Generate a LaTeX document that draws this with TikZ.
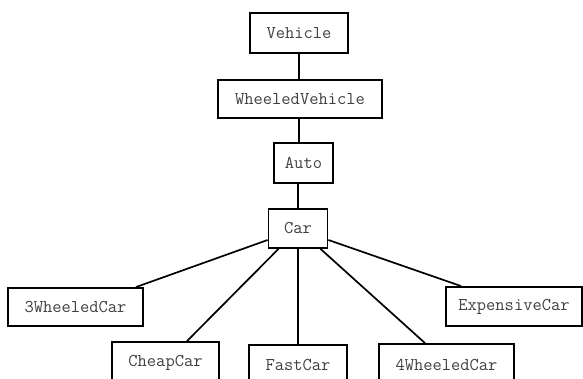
\documentclass[tikz,border=0pt]{standalone}
\begin{document}
\begin{tikzpicture}[x=1pt,y=-1pt,
  box/.style={draw=black,line width=1.8pt,rectangle,inner sep=0pt,fill=white,
    font=\ttfamily\fontsize{18}{20}\selectfont,text=black!75},
  link/.style={draw=black,line width=1.7pt}]
\useasboundingbox (0,0) rectangle (583,379);
\clip (0,0) rectangle (583,379);
\fill[white] (0,0) rectangle (583,379);
\node[box,minimum width=98pt,minimum height=40pt] (veh) at (299,33) {Vehicle};
\node[box,minimum width=164pt,minimum height=38pt] (wv) at (300,99) {WheeledVehicle};
\node[box,minimum width=59pt,minimum height=40pt] (auto) at (303.5,163) {Auto};
\node[box,minimum width=59pt,minimum height=39pt] (car) at (298,228.5) {Car};
\node[box,minimum width=135pt,minimum height=38pt] (w3) at (75.5,307) {3WheeledCar};
\node[box,minimum width=136pt,minimum height=39pt] (exp) at (514,306.5) {ExpensiveCar};
\node[box,minimum width=107pt,minimum height=42pt] (cheap) at (165.5,363) {CheapCar};
\node[box,minimum width=98pt,minimum height=40pt] (fast) at (298,365) {FastCar};
\node[box,minimum width=135pt,minimum height=42pt] (w4) at (446.5,365) {4WheeledCar};
\draw[link] (veh.south) -- (veh.south |- wv.north);
\draw[link] ([xshift=-1pt]wv.south) -- ([xshift=-1pt]wv.south |- auto.north);
\draw[link] (auto.south -| car.north) -- (car.north);
\draw[link] ([yshift=-11.5pt]car.west) -- ([xshift=-8pt]w3.north east);
\draw[link] ([xshift=-19.5pt]car.south) -- ([xshift=21.5pt]cheap.north);
\draw[link] (car.south) -- (fast.north);
\draw[link] ([xshift=22.5pt]car.south) -- ([xshift=-21.5pt]w4.north);
\draw[link] ([yshift=-11.5pt]car.east) -- ([xshift=16pt]exp.north west);
\end{tikzpicture}
\end{document}
